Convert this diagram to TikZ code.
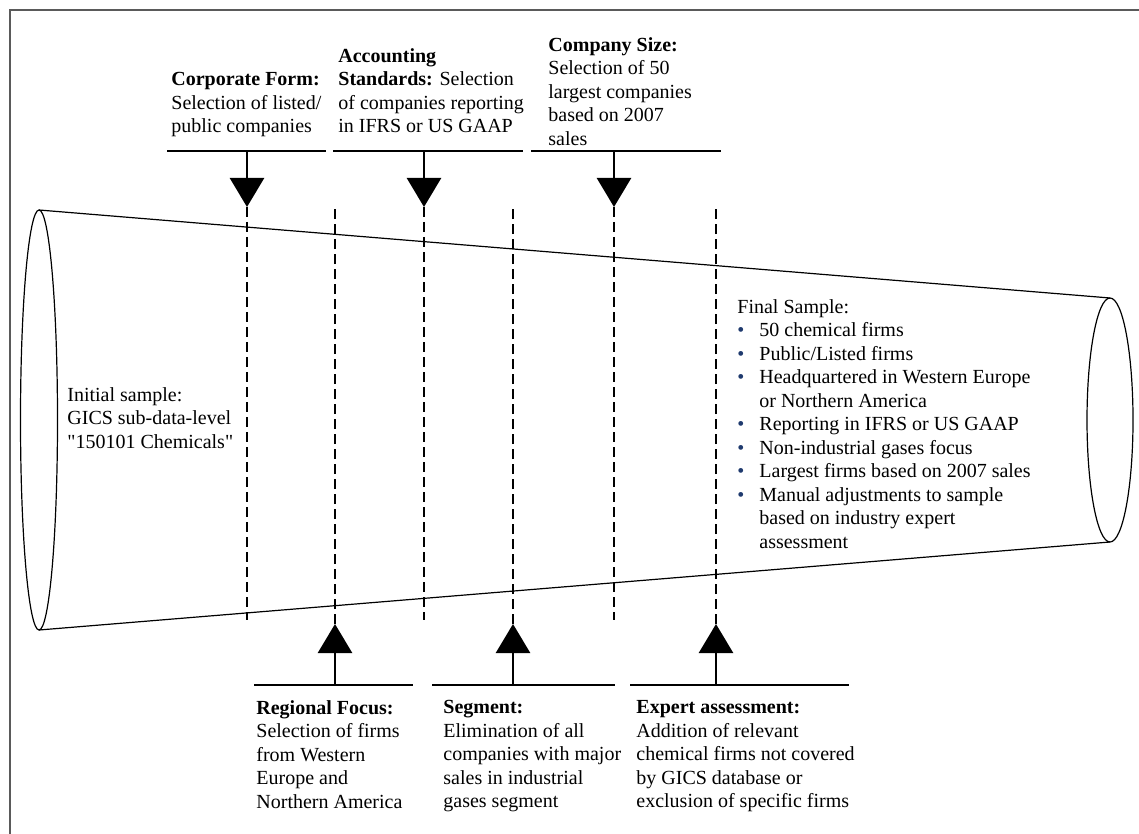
\documentclass[tikz,border=0pt]{standalone}
\usepackage{fontspec}
\setmainfont{Liberation Serif}
\usetikzlibrary{arrows.meta}
\definecolor{framegray}{HTML}{5A5A5A}
\definecolor{bulblue}{HTML}{1F3A6E}
\tikzset{
  lbl/.style={anchor=north west,inner sep=0pt,align=left},
  bar/.style={line width=1.3pt},
  flow/.style={-{Triangle[length=14.5pt,width=17pt]},line width=1.3pt},
  cut/.style={dash pattern=on 5pt off 2.5pt,line width=1.2pt},
  cone/.style={line width=0.6pt},
}
\newcommand{\bul}{\makebox[11pt][l]{\textcolor{bulblue}{\textbullet}}}
\newcommand{\ind}{\hspace*{11pt}}

\begin{document}
\begin{tikzpicture}[x=0.5pt,y=-0.5pt,font=\fontsize{10}{11.75}\selectfont]
\useasboundingbox (0,0) rectangle (1139,834);
\draw[framegray,line width=1pt] (10,834) -- (10,10) -- (1139,10);

% funnel
\draw[cone] (39,420) ellipse [x radius=18.5,y radius=210];
\draw[cone] (1110,420) ellipse [x radius=23,y radius=122];
\draw[cone] (39,210) -- (1110,298);
\draw[cone] (39,630) -- (1110,542);

\node[lbl] (init) at (67,387) {Initial sample:\\GICS sub-data-level\\\textquotedbl150101 Chemicals\textquotedbl};
\node[lbl] (final) at (737,299) {Final Sample:\\
  \bul 50 chemical firms\\
  \bul Public/Listed firms\\
  \bul Headquartered in Western Europe\\
  \ind or Northern America\\
  \bul Reporting in IFRS or US GAAP\\
  \bul Non-industrial gases focus\\
  \bul Largest firms based on 2007 sales\\
  \bul Manual adjustments to sample\\
  \ind based on industry expert\\
  \ind assessment};

% filters from above
\node[lbl] (corp) at (171,72) {\textbf{Corporate Form:}\\Selection of listed/\\public companies};
\node[lbl] (acct) at (338,48) {\textbf{Accounting}\\\textbf{Standards:} Selection\\of companies reporting\\in IFRS or US GAAP};
\node[lbl] (size) at (548,37) {\textbf{Company Size:}\\Selection of 50\\largest companies\\based on 2007\\sales};
\draw[bar] (167,151) -- (326,151);
\draw[bar] (333,151) -- (523,151);
\draw[bar] (531,151) -- (721,151);
\coordinate (corpA) at (247,151); \coordinate (corpB) at (247,207); \coordinate (corpC) at (247,620);
\coordinate (acctA) at (424,151); \coordinate (acctB) at (424,207); \coordinate (acctC) at (424,620);
\coordinate (sizeA) at (614,151); \coordinate (sizeB) at (614,207); \coordinate (sizeC) at (614,620);
\draw[flow] (corpA) -- (corpB); \draw[cut] (corpB) -- (corpC);
\draw[flow] (acctA) -- (acctB); \draw[cut] (acctB) -- (acctC);
\draw[flow] (sizeA) -- (sizeB); \draw[cut] (sizeB) -- (sizeC);

% filters from below
\node[lbl] (reg) at (256,700) {\textbf{Regional Focus:}\\Selection of firms\\from Western\\Europe and\\Northern America};
\node[lbl] (seg) at (443,700) {\textbf{Segment:}\\Elimination of all\\companies with major\\sales in industrial\\gases segment};
\node[lbl] (exp) at (636,700) {\textbf{Expert assessment:}\\Addition of relevant\\chemical firms not covered\\by GICS database or\\exclusion of specific firms};
\draw[bar] (254,685) -- (413,685);
\draw[bar] (432,685) -- (615,685);
\draw[bar] (630,685) -- (849,685);
\coordinate (regA) at (335,685); \coordinate (regB) at (335,624); \coordinate (regC) at (335,205);
\coordinate (segA) at (513,685); \coordinate (segB) at (513,624); \coordinate (segC) at (513,205);
\coordinate (expA) at (716,685); \coordinate (expB) at (716,624); \coordinate (expC) at (716,205);
\draw[flow] (regA) -- (regB); \draw[cut] (regB) -- (regC);
\draw[flow] (segA) -- (segB); \draw[cut] (segB) -- (segC);
\draw[flow] (expA) -- (expB); \draw[cut] (expB) -- (expC);
\end{tikzpicture}
\end{document}
